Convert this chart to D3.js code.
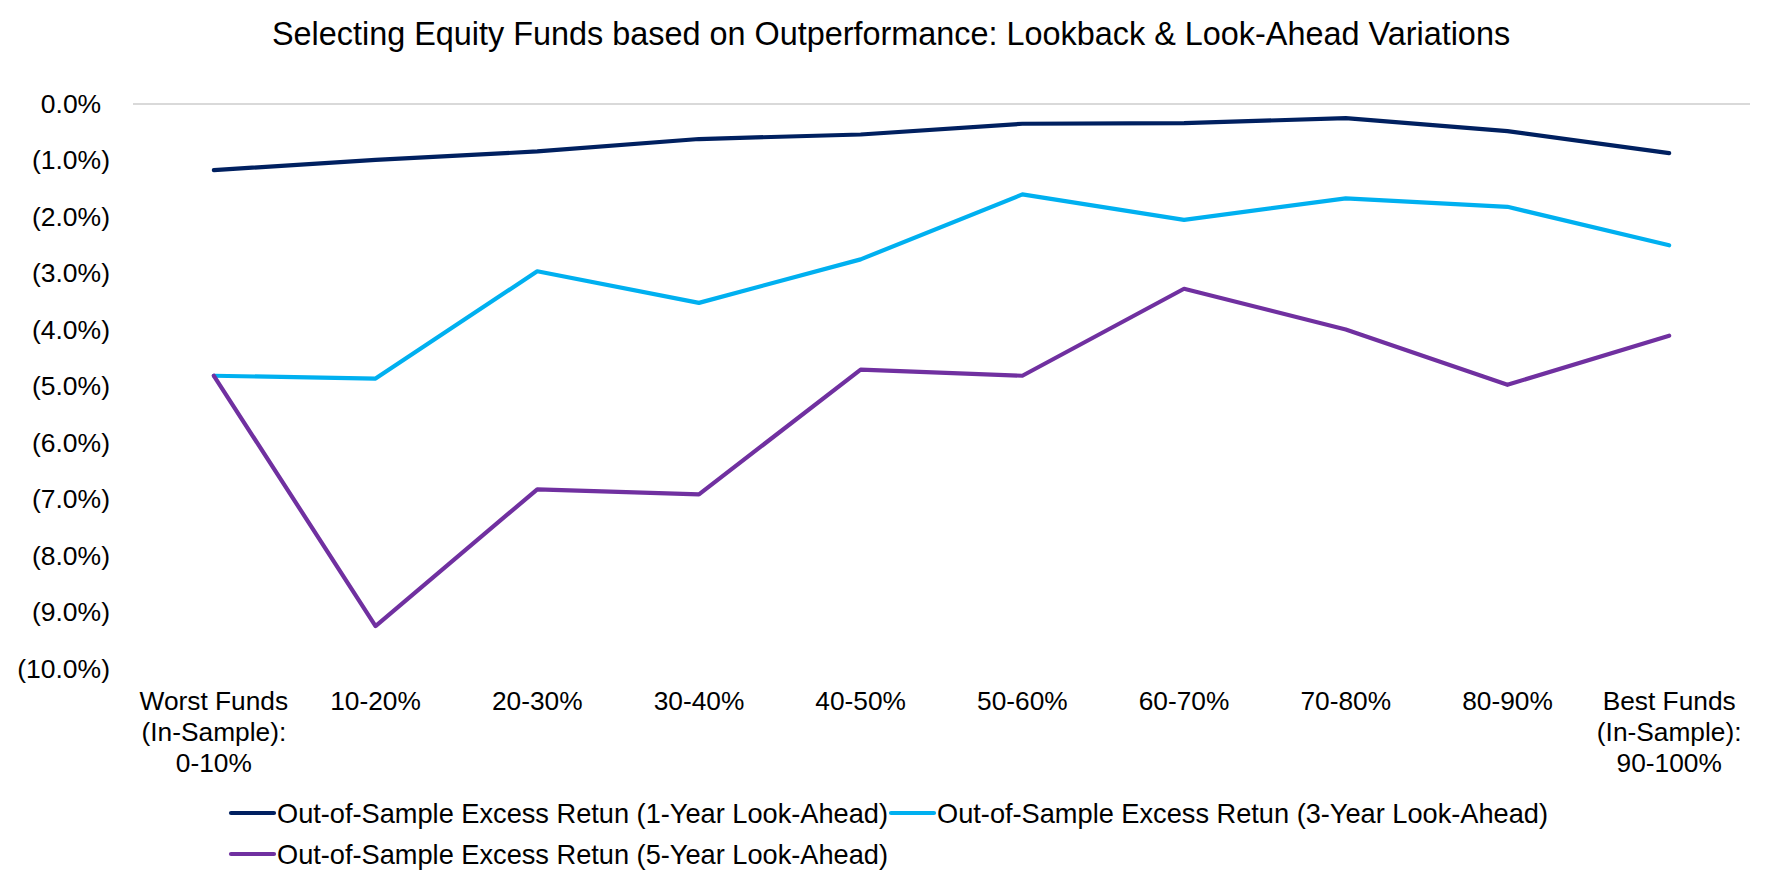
<!DOCTYPE html>
<html>
<head>
<meta charset="utf-8">
<script src="https://cdn.jsdelivr.net/npm/d3@7"></script>
<style>
  body { margin: 0; background: #fff; }
  text { font-family: "Liberation Sans", Arial, sans-serif; fill: #000; }
</style>
</head>
<body>
<svg id="chart" width="1773" height="886"></svg>
<script>
// chart data
var categories = [
  ["Worst Funds", "(In-Sample):", "0-10%"],
  ["10-20%"], ["20-30%"], ["30-40%"], ["40-50%"],
  ["50-60%"], ["60-70%"], ["70-80%"], ["80-90%"],
  ["Best Funds", "(In-Sample):", "90-100%"]
];
var oneYear   = [-1.17, -0.99, -0.84, -0.62, -0.54, -0.35, -0.34, -0.25, -0.48, -0.87];
var threeYear = [-4.81, -4.86, -2.96, -3.52, -2.75, -1.60, -2.05, -1.67, -1.82, -2.50];
var fiveYear  = [-4.81, -9.24, -6.82, -6.91, -4.70, -4.81, -3.27, -3.99, -4.97, -4.10];
var seriesNames = [
  "Out-of-Sample Excess Retun (1-Year Look-Ahead)",
  "Out-of-Sample Excess Retun (3-Year Look-Ahead)",
  "Out-of-Sample Excess Retun (5-Year Look-Ahead)"
];
var yTicks = [0, -1, -2, -3, -4, -5, -6, -7, -8, -9, -10];
var title = "Selecting Equity Funds based on Outperformance: Lookback & Look-Ahead Variations";

var colors = ["#002060", "#00B0F0", "#7030A0"];
var series = [oneYear, threeYear, fiveYear];

var svg = d3.select("#chart");
// plot area edges (note: "top" would clash with window.top)
var plotL = 133, plotR = 1750, plotT = 104, plotB = 669;
var fsTick = 26.5, fsCat = 26.3, fsLeg = 27.2;

var x = d3.scalePoint()
  .domain(d3.range(categories.length))
  .range([plotL, plotR])
  .padding(0.5);
var y = d3.scaleLinear()
  .domain([-10, 0])
  .range([plotB, plotT]);

// title
svg.append("text")
  .attr("x", 891)
  .attr("y", 34)
  .attr("text-anchor", "middle")
  .attr("dominant-baseline", "central")
  .style("font-size", "32.4px")
  .text(title);

// y axis labels, (x.x%) for negatives
var fmt = function(d) {
  var s = d3.format(".1f")(Math.abs(d)) + "%";
  return d < 0 ? "(" + s + ")" : s;
};
var yAxis = d3.axisLeft(y)
  .tickValues(yTicks)
  .tickFormat(fmt)
  .tickSize(0)
  .tickPadding(0);
var gy = svg.append("g")
  .attr("transform", "translate(110,0)")
  .call(yAxis);
gy.select(".domain").remove();
gy.selectAll("text")
  .style("font-size", fsTick + "px")
  .style("font-family", '"Liberation Sans", Arial, sans-serif')
  .attr("fill", "#000")
  .attr("dx", function(d) { return d < 0 ? 0 : "-0.333em"; });

// horizontal axis line at zero
svg.append("line")
  .attr("x1", plotL).attr("x2", plotR)
  .attr("y1", y(0)).attr("y2", y(0))
  .attr("stroke", "#D9D9D9")
  .attr("stroke-width", 2);

// category labels (multi-line)
var xl = svg.append("g").selectAll("text")
  .data(categories)
  .enter().append("text")
  .attr("text-anchor", "middle")
  .style("font-size", fsCat + "px")
  .attr("transform", function(d, i) { return "translate(" + x(i) + ",701)"; });
xl.selectAll("tspan")
  .data(function(d) { return d; })
  .enter().append("tspan")
  .attr("x", 0)
  .attr("y", function(d, j) { return j * 30.8; })
  .attr("dominant-baseline", "central")
  .text(function(d) { return d; });

// lines
var line = d3.line()
  .x(function(d, i) { return x(i); })
  .y(function(d) { return y(d); });

svg.append("g").selectAll("path")
  .data(series)
  .enter().append("path")
  .attr("d", line)
  .attr("fill", "none")
  .attr("stroke", function(d, i) { return colors[i]; })
  .attr("stroke-width", 4.2)
  .attr("stroke-linejoin", "round")
  .attr("stroke-linecap", "round");

// legend: two items on first row, one on second
var legendRows = [[0, 1], [2]];
var rowY = [813, 854];
legendRows.forEach(function(row, r) {
  var cx = 231;
  row.forEach(function(k) {
    var g = svg.append("g").attr("transform", "translate(" + cx + "," + rowY[r] + ")");
    g.append("line")
      .attr("x1", 0).attr("x2", 43)
      .attr("stroke", colors[k])
      .attr("stroke-width", 4.2)
      .attr("stroke-linecap", "round");
    var t = g.append("text")
      .attr("x", 46)
      .attr("dominant-baseline", "central")
      .style("font-size", fsLeg + "px")
      .text(seriesNames[k]);
    cx += 46 + t.node().getComputedTextLength() + 3;
  });
});
</script>
</body>
</html>
